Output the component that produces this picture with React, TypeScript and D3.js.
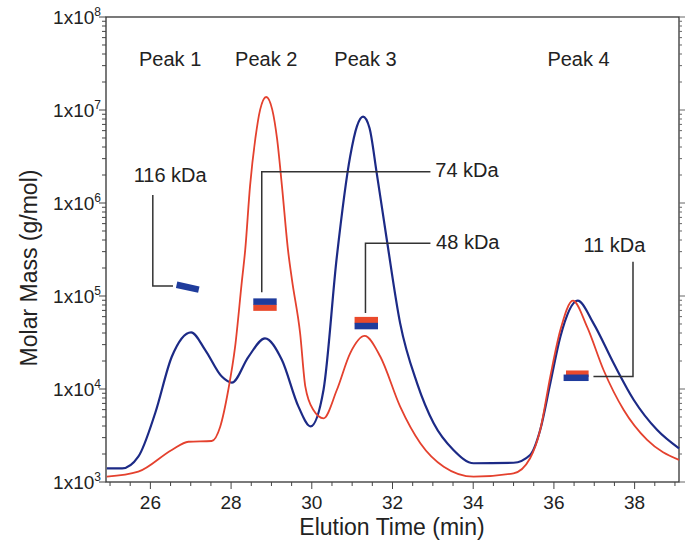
import React, { useEffect, useRef } from 'react';
import * as d3 from 'd3';

// elution time (min) and molar mass (g/mol)
const blueTrace: [number, number][] = [
  [24.92, 1400], [25.3, 1400], [25.7, 1870], [26.12, 5520], [26.53, 22200],
  [27.01, 40700], [27.36, 26200], [27.77, 13600], [28.02, 11700], [28.43, 22200],
  [28.84, 35100], [29.26, 20500], [29.67, 6460], [29.97, 3960], [30.29, 9750],
  [30.62, 263000], [30.95, 3150000], [31.12, 6700000], [31.27, 8470000], [31.43, 6400000],
  [31.61, 2080000], [31.86, 400000],
  [32.19, 50800], [32.61, 11500], [33.02, 4280], [33.51, 2210], [34.01, 1590],
  [35.0, 1610], [35.41, 1950], [35.66, 3620], [35.91, 11500], [36.16, 36500],
  [36.59, 89000], [36.98, 50800], [37.48, 18900], [37.98, 7620], [38.56, 3620],
  [39.1, 2300],
];

const redTrace: [number, number][] = [
  [24.92, 1140], [25.7, 1290], [26.53, 2210], [26.94, 2710], [27.52, 2760],
  [27.73, 3930], [27.93, 9750], [28.1, 28500], [28.27, 148000], [28.35, 313000],
  [28.47, 1530000], [28.6, 4880000], [28.72, 10100000], [28.87, 13800000], [29.02, 10100000],
  [29.14, 4880000], [29.26, 1530000], [29.41, 313000], [29.51, 148000],
  [29.71, 40000], [29.84, 10600], [30.04, 5940], [30.29, 4840], [30.62, 9750],
  [30.95, 24200], [31.31, 37200], [31.7, 22200], [32.19, 6460], [32.69, 2610],
  [33.27, 1460], [34.01, 1140], [35.0, 1240], [35.41, 1800], [35.66, 3620],
  [35.91, 13600], [36.16, 43000], [36.47, 89000], [36.82, 46800], [37.23, 16000],
  [37.73, 5940], [38.31, 2830], [39.1, 1730],
];

// measured molar mass across each peak: [start time, end time, mass at start, mass at end]
const blueMarkers: [number, number, number, number][] = [
  [26.65, 27.2, 132000, 117000],
  [28.55, 29.13, 87000, 87000],
  [31.06, 31.64, 47500, 47500],
  [36.24, 36.86, 13200, 13200],
];
const redMarkers: [number, number, number, number][] = [
  [28.55, 29.13, 75000, 75000],
  [31.06, 31.64, 55000, 55000],
  [36.3, 36.86, 14600, 14600],
];

const peakNames = ['Peak 1', 'Peak 2', 'Peak 3', 'Peak 4'];
const peakTimes = [26.49, 28.87, 31.33, 36.61];

const massLabels = ['116 kDa', '74 kDa', '48 kDa', '11 kDa'];
const massLabelAt: [number, number][] = [[26.49, 1680000], [33.06, 2170000], [33.08, 369000], [37.5, 297000]];
const massLabelAnchor = ['middle', 'start', 'start', 'middle'];
const leaderLines: [number, number][][] = [
  [[26.06, 1220000], [26.06, 128000], [26.56, 128000]],
  [[28.76, 110000], [28.76, 2170000], [32.94, 2170000]],
  [[31.33, 65600], [31.33, 369000], [32.94, 369000]],
  [[36.98, 13600], [37.96, 13600], [37.96, 234000]],
];

const xTicks = [26, 28, 30, 32, 34, 36, 38];
const yTicks = [1e3, 1e4, 1e5, 1e6, 1e7, 1e8];

const App = () => {
  const ref = useRef<SVGSVGElement>(null);

  useEffect(() => {
    const svg = d3.select(ref.current);
    svg.selectAll('*').remove();

    const x = d3.scaleLinear().domain([24.9, 39.1]).range([106, 679]);
    const y = d3.scaleLog().domain([1e3, 1e8]).range([482, 17]);
    const font = 'Liberation Sans, Arial, sans-serif';
    const ink = '#222';

    // frame
    svg.append('rect')
      .attr('x', 106).attr('y', 17)
      .attr('width', 573).attr('height', 465)
      .attr('fill', 'none').attr('stroke', '#333').attr('stroke-width', 1.3);

    // x ticks
    const xMinor = d3.range(25, 39.01, 0.5);
    svg.append('g').selectAll('line').data(xMinor).enter().append('line')
      .attr('x1', d => x(d)).attr('x2', d => x(d))
      .attr('y1', 482).attr('y2', d => (d % 2 === 0 ? 489 : 486))
      .attr('stroke', '#444').attr('stroke-width', 1);
    svg.append('g').selectAll('text').data(xTicks).enter().append('text')
      .attr('x', d => x(d)).attr('y', 509)
      .attr('text-anchor', 'middle')
      .style('font-family', font).style('font-size', '19px').attr('fill', ink)
      .text(d => d);

    // log ticks, left (outside) and right
    const yMinor: number[] = [];
    yTicks.slice(0, -1).forEach(dec => { for (let k = 1; k < 10; k++) yMinor.push(dec * k); });
    yMinor.push(1e8);
    const isMajor = (v: number) => Math.abs(Math.log10(v) - Math.round(Math.log10(v))) < 1e-9;
    svg.append('g').selectAll('line').data(yMinor).enter().append('line')
      .attr('x1', 106).attr('x2', d => (isMajor(d) ? 99 : 102))
      .attr('y1', d => y(d)).attr('y2', d => y(d))
      .attr('stroke', '#444').attr('stroke-width', 1);
    svg.append('g').selectAll('line').data(yMinor).enter().append('line')
      .attr('x1', 679).attr('x2', d => (isMajor(d) ? 685 : 682))
      .attr('y1', d => y(d)).attr('y2', d => y(d))
      .attr('stroke', '#666').attr('stroke-width', 1);

    const yl = svg.append('g').selectAll('text').data(yTicks).enter().append('text')
      .attr('x', 101).attr('y', d => y(d) + 7)
      .attr('text-anchor', 'end')
      .style('font-family', font).style('font-size', '19px').attr('fill', ink);
    yl.append('tspan').text('1x10');
    yl.append('tspan').attr('dy', -8).style('font-size', '12px').text(d => Math.round(Math.log10(d)));

    // axis titles
    svg.append('text')
      .attr('x', 392).attr('y', 535).attr('text-anchor', 'middle')
      .style('font-family', font).style('font-size', '23px').attr('fill', ink)
      .text('Elution Time (min)');
    svg.append('text')
      .attr('transform', 'translate(37,268) rotate(-90)').attr('text-anchor', 'middle')
      .style('font-family', font).style('font-size', '23px').attr('fill', ink)
      .text('Molar Mass (g/mol)');

    // traces
    const line = d3.line<[number, number]>()
      .x(d => x(d[0])).y(d => y(d[1]))
      .curve(d3.curveMonotoneX);
    svg.append('path').datum(blueTrace)
      .attr('d', line).attr('fill', 'none')
      .attr('stroke', '#1c2a86').attr('stroke-width', 2.2);
    svg.append('path').datum(redTrace)
      .attr('d', line).attr('fill', 'none')
      .attr('stroke', '#e4412e').attr('stroke-width', 1.8);

    // leader lines
    const leader = d3.line<[number, number]>().x(d => x(d[0])).y(d => y(d[1]));
    svg.append('g').selectAll('path').data(leaderLines).enter().append('path')
      .attr('d', d => leader(d)).attr('fill', 'none')
      .attr('stroke', '#333').attr('stroke-width', 1.5);

    // molar mass markers
    const drawMarkers = (data: [number, number, number, number][], color: string) => {
      svg.append('g').selectAll('line').data(data).enter().append('line')
        .attr('x1', d => x(d[0])).attr('x2', d => x(d[1]))
        .attr('y1', d => y(d[2])).attr('y2', d => y(d[3]))
        .attr('stroke', color).attr('stroke-width', 6.5);
    };
    drawMarkers(redMarkers, '#ea4a2c');
    drawMarkers(blueMarkers, '#1f3c9c');

    // peak names
    svg.append('g').selectAll('text').data(peakNames).enter().append('text')
      .attr('x', (d, i) => x(peakTimes[i])).attr('y', 66)
      .attr('text-anchor', 'middle')
      .style('font-family', font).style('font-size', '20px').attr('fill', ink)
      .text(d => d);

    // kDa labels
    svg.append('g').selectAll('text').data(massLabels).enter().append('text')
      .attr('x', (d, i) => x(massLabelAt[i][0])).attr('y', (d, i) => y(massLabelAt[i][1]))
      .attr('text-anchor', (d, i) => massLabelAnchor[i])
      .attr('dominant-baseline', (d, i) => (massLabelAnchor[i] === 'start' ? 'middle' : 'auto'))
      .style('font-family', font).style('font-size', '20px').attr('fill', ink)
      .text(d => d);
  }, []);

  return (
    <div style={{ position: 'absolute', left: 0, top: 0, background: '#fff' }}>
      <svg ref={ref} width={688} height={548} />
    </div>
  );
};

export default App;
